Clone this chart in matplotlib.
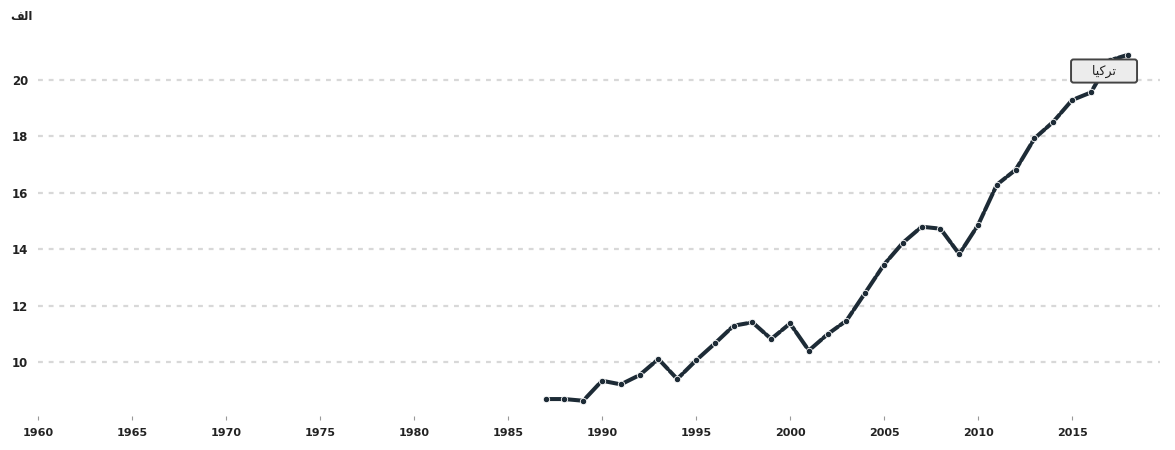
import matplotlib
matplotlib.use("Agg")
import matplotlib.pyplot as plt

# --------------------------------------------------
# DATA
# --------------------------------------------------

years = list(range(1987, 2019))
values = [
    8.69, 8.69, 8.63, 9.34, 9.21, 9.54, 10.11, 9.40, 10.06, 10.66,
    11.29, 11.41, 10.82, 11.37, 10.41, 10.99, 11.47, 12.46, 13.46, 14.23,
    14.80, 14.73, 13.83, 14.86, 16.29, 16.82, 17.93, 18.52, 19.29, 19.56,
    20.70, 20.90,
]

x_ticks = [1960, 1965, 1970, 1975, 1980, 1985, 1990, 1995, 2000, 2005, 2010, 2015]
y_ticks = [10, 12, 14, 16, 18, 20]

# Arabic text written in shaped presentation forms (visual order),
# since matplotlib does no Arabic shaping itself
unit_label = "\uFED2\uFEDF\uFE8D"                    # الف
series_label = "\uFE8E\uFEF4\uFEDB\uFEAE\uFE97"      # تركيا

# --------------------------------------------------
# PLOT
# --------------------------------------------------

line_color = "#1d2b36"
grid_color = "#d8d8d8"

fig = plt.figure(figsize=(11.75, 4.5), dpi=100)
ax = fig.add_axes([0.0323, 0.0756, 0.955, 0.8468])

ax.plot(
    years, values,
    color=line_color,
    linewidth=2.9,
    linestyle=(0, (4.5, 0.7)),
    marker="o",
    markersize=4.6,
    markerfacecolor=line_color,
    markeredgecolor="white",
    markeredgewidth=0.6,
    dash_capstyle="round",
    zorder=3,
)

ax.set_xlim(1960, 2019.68)
ax.set_ylim(8.09, 21.6)

ax.set_xticks(x_ticks)
ax.set_xticklabels([str(t) for t in x_ticks])
ax.set_yticks(y_ticks)
ax.set_yticklabels([str(t) for t in y_ticks])

ax.grid(axis="y", color=grid_color, linewidth=1.6, linestyle=(0, (2.2, 2.6)))
ax.grid(axis="x", visible=False)
ax.set_axisbelow(True)

for side in ["top", "right", "left", "bottom"]:
    ax.spines[side].set_visible(False)

ax.tick_params(axis="y", length=0, pad=7, labelsize=8.5, labelcolor="#222222")
ax.tick_params(axis="x", length=3, width=0.8, color="#999999", pad=6,
               labelsize=8, labelcolor="#222222")
for lbl in ax.get_xticklabels() + ax.get_yticklabels():
    lbl.set_fontweight("bold")

# unit label at the top left
fig.text(10 / 1175, 1 - 17 / 450, unit_label, fontsize=8.5, fontweight="bold",
         color="#222222", ha="left", va="center", family="DejaVu Sans")

# series label box near the end of the line
ax.text(
    2016.7, 20.32, "    " + series_label + "    ",
    fontsize=9, color="#222222", ha="center", va="center",
    family="DejaVu Sans", zorder=5,
    bbox=dict(boxstyle="round,pad=0.4,rounding_size=0.2",
              facecolor="#ececec", edgecolor="#444444", linewidth=1.4),
)

plt.savefig("out.png", dpi=100)
plt.close()
